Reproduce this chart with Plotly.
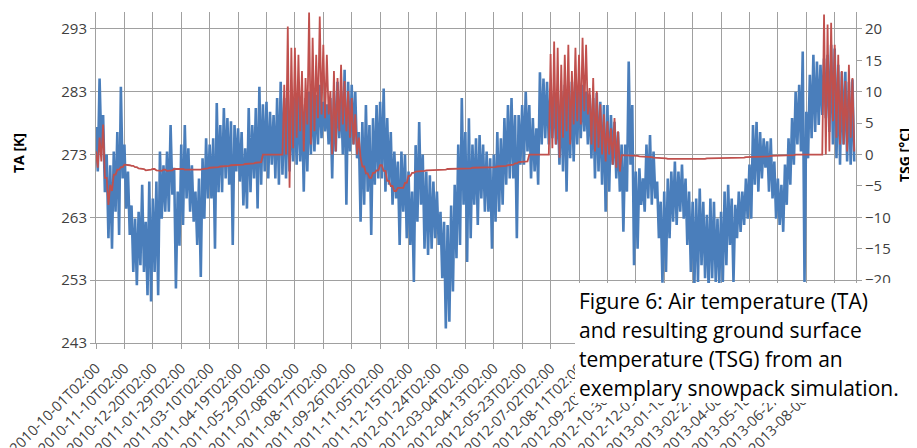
import numpy as np
import pandas as pd
import plotly.graph_objects as go

# ---------------- data (5-day steps from 2010-10-01T02:00) -------------
START = "2010-10-01 02:00"
STEP_DAYS = 5

# air temperature TA [K]: upper and lower envelope of each 5-day window
TA_hi = [
    277.4, 285.1, 279.3, 273.0, 271.3, 273.5, 276.6, 283.8,
    274.6, 270.3, 264.9, 262.8, 263.9, 268.2, 262.3, 268.7,
    266.0, 268.7, 273.5, 271.3, 273.5, 277.7, 270.9, 267.1,
    274.6, 277.7, 274.0, 271.3, 267.1, 269.2, 272.4, 275.6,
    274.6, 275.6, 281.2, 277.7, 280.4, 278.8, 278.3, 277.7,
    277.2, 276.6, 274.0, 280.4, 277.7, 280.4, 283.8, 281.0,
    281.4, 279.8, 279.3, 282.0, 284.6, 282.0, 282.5, 281.0,
    282.0, 283.0, 281.0, 282.0, 283.0, 283.5, 282.5, 284.1,
    281.4, 281.0, 282.0, 283.0, 284.6, 283.0, 286.5, 284.6,
    284.1, 283.0, 276.6, 278.2, 280.9, 277.7, 278.8, 280.9,
    281.4, 283.5, 278.8, 276.6, 273.5, 271.9, 273.5, 273.0,
    270.3, 267.1, 274.5, 278.2, 273.0, 270.3, 269.7, 268.7,
    267.1, 263.9, 262.3, 261.8, 264.9, 268.2, 274.6, 282.0,
    276.6, 278.8, 274.6, 275.6, 276.1, 274.6, 273.5, 272.4,
    273.0, 276.6, 275.6, 278.8, 280.9, 282.0, 279.3, 279.3,
    280.9, 283.0, 280.9, 278.8, 277.2, 286.1, 285.1, 284.6,
    283.5, 283.0, 282.0, 283.0, 284.1, 283.5, 284.6, 284.1,
    283.5, 284.1, 283.0, 282.5, 282.0, 282.8, 281.4, 280.9,
    280.9, 279.3, 278.2, 276.6, 274.6, 274.6, 287.8, 280.9,
    270.3, 270.8, 269.2, 274.6, 276.1, 273.5, 268.7, 265.5,
    267.1, 269.2, 270.3, 271.9, 270.3, 271.4, 269.2, 267.1,
    265.5, 266.0, 267.6, 265.5, 263.4, 266.0, 265.5, 262.8,
    263.9, 267.1, 268.2, 266.0, 265.0, 267.1, 267.1, 269.2,
    271.4, 277.7, 278.2, 276.6, 275.6, 275.1, 275.6, 271.9,
    269.2, 268.2, 271.4, 275.6, 278.8, 283.0, 284.1, 289.4,
    279.8, 285.7, 288.9, 287.8, 287.3, 288.3, 288.9, 290.5,
    289.9, 287.3, 286.2, 286.2, 284.6, 285.0,
]
TA_lo = [
    270.3, 274.0, 267.0, 259.7, 258.0, 263.9, 260.2, 269.2,
    264.4, 260.2, 254.3, 252.2, 255.4, 254.3, 250.6, 249.6,
    254.3, 250.6, 262.8, 263.9, 263.9, 266.6, 251.7, 258.5,
    261.8, 266.0, 263.9, 262.3, 258.6, 253.5, 262.8, 266.0,
    266.0, 258.0, 267.0, 267.0, 269.2, 268.2, 258.6, 270.3,
    268.7, 264.9, 264.4, 267.0, 269.2, 264.4, 268.2, 270.3,
    269.2, 271.4, 269.2, 268.2, 269.8, 269.2, 270.3, 271.9,
    271.4, 271.9, 267.1, 270.3, 273.0, 273.5, 274.6, 275.6,
    276.7, 274.6, 269.2, 273.5, 275.6, 273.0, 265.0, 273.5,
    274.6, 272.4, 262.3, 265.0, 267.1, 260.2, 268.2, 269.2,
    269.2, 267.1, 268.2, 265.0, 266.0, 258.6, 263.9, 259.7,
    258.6, 252.7, 262.3, 265.0, 258.0, 257.0, 258.0, 259.7,
    258.6, 253.3, 245.3, 246.4, 251.2, 256.5, 258.6, 265.0,
    255.9, 259.7, 265.0, 261.8, 266.0, 263.9, 263.9, 258.0,
    262.3, 263.9, 265.0, 268.2, 269.2, 269.2, 259.7, 271.4,
    271.4, 273.5, 269.2, 270.3, 268.2, 274.6, 275.6, 274.6,
    275.6, 274.6, 271.4, 270.3, 267.1, 272.4, 271.9, 274.6,
    275.6, 276.7, 274.6, 272.4, 269.2, 270.3, 268.2, 263.9,
    267.1, 271.4, 269.2, 267.1, 260.7, 267.1, 271.4, 255.4,
    258.0, 265.0, 263.9, 266.0, 265.0, 266.0, 259.7, 252.6,
    254.3, 259.7, 262.3, 261.8, 263.9, 262.8, 258.6, 254.3,
    252.2, 252.7, 255.4, 253.3, 251.6, 253.3, 252.7, 252.2,
    252.7, 255.4, 258.6, 252.7, 259.7, 260.7, 261.8, 262.8,
    262.8, 268.2, 267.1, 269.2, 270.9, 267.1, 266.0, 262.8,
    261.8, 260.7, 265.0, 268.2, 271.4, 274.6, 273.5, 252.7,
    272.4, 275.6, 276.6, 277.7, 279.3, 278.8, 276.6, 274.6,
    272.4, 271.4, 274.6, 271.9, 271.4, 271.9,
]

# ground surface temperature TSG [°C]: upper and lower envelope of each 5-day window
TSG_hi = [
    0.5, 2.7, 4.8, -3.7, -4.8, -3.2, -2.4, -2.0,
    -1.6, -1.7, -1.8, -2.0, -2.2, -2.3, -2.5, -2.4,
    -2.3, -2.5, -2.6, -2.4, -2.6, -2.5, -2.3, -2.2,
    -2.3, -2.4, -2.4, -2.5, -2.5, -2.4, -2.3, -2.2,
    -2.1, -2.0, -2.0, -1.9, -1.9, -1.8, -1.7, -1.7,
    -1.6, -1.6, -1.5, -1.5, -1.4, -1.3, -1.2, 0.0,
    0.0, 0.0, 0.0, 0.0, 0.0, 11.1, 20.4, 17.0,
    17.0, 15.9, 13.3, 12.2, 22.6, 18.6, 15.9, 22.0,
    17.5, 15.9, 10.1, 13.3, 12.2, 14.3, 11.7, 10.1,
    9.0, 6.4, 2.7, -1.9, -3.0, -3.7, -2.9, -2.5,
    -1.7, -2.6, -4.2, -5.0, -5.8, -5.3, -5.3, -4.5,
    -3.4, -2.9, -2.7, -2.6, -2.6, -2.5, -2.5, -2.4,
    -2.4, -2.4, -2.4, -2.3, -2.3, -2.3, -2.2, -2.2,
    -2.2, -2.2, -2.1, -2.1, -2.1, -2.0, -2.0, -2.0,
    -2.0, -1.9, -1.9, -1.8, -1.7, -1.6, -1.4, -1.2,
    -1.2, -1.1, 0.0, 0.0, 0.0, 0.0, 0.0, 0.0,
    16.0, 18.0, 17.0, 14.3, 15.9, 17.5, 13.3, 17.0,
    15.9, 18.6, 17.5, 10.6, 12.2, 10.1, 8.0, 6.4,
    5.3, 4.2, 5.8, 3.7, -0.1, -0.1, -0.2, -0.2,
    -0.2, -0.3, -0.3, -0.4, -0.4, -0.5, -0.5, -0.6,
    -0.6, -0.7, -0.7, -0.8, -0.8, -0.8, -0.8, -0.7,
    -0.7, -0.7, -0.7, -0.7, -0.6, -0.6, -0.6, -0.6,
    -0.6, -0.6, -0.6, -0.5, -0.5, -0.5, -0.5, -0.4,
    -0.4, -0.4, -0.4, -0.3, -0.3, -0.3, -0.2, -0.2,
    -0.2, -0.1, -0.1, -0.1, -0.1, 0.0, 0.0, 0.0,
    0.0, 0.0, 0.0, 0.0, 0.0, 22.3, 20.7, 21.0,
    17.5, 15.9, 13.3, 11.7, 14.3, 12.2,
]
TSG_lo = [
    -2.1, -1.1, -3.7, -8.0, -5.8, -3.2, -2.4, -2.0,
    -1.6, -1.7, -1.8, -2.0, -2.2, -2.3, -2.5, -2.4,
    -2.3, -2.5, -2.6, -2.4, -2.6, -2.5, -2.3, -2.2,
    -2.3, -2.4, -2.4, -2.5, -2.5, -2.4, -2.3, -2.2,
    -2.1, -2.0, -2.0, -1.9, -1.9, -1.8, -1.7, -1.7,
    -1.6, -1.6, -1.5, -1.5, -1.4, -1.3, -1.2, 0.0,
    0.0, 0.0, 0.0, 0.0, 0.0, 0.0, -5.3, 1.0,
    2.7, 3.7, 0.5, 4.8, 1.6, 3.7, 5.8, 6.4,
    5.8, 6.4, 0.0, 0.5, 3.7, 4.8, 3.7, 2.7,
    1.6, 0.0, -0.5, -1.9, -3.0, -3.7, -2.9, -2.5,
    -1.7, -2.6, -4.2, -5.0, -5.8, -5.3, -5.3, -4.5,
    -3.4, -2.9, -2.7, -2.6, -2.6, -2.5, -2.5, -2.4,
    -2.4, -2.4, -2.4, -2.3, -2.3, -2.3, -2.2, -2.2,
    -2.2, -2.2, -2.1, -2.1, -2.1, -2.0, -2.0, -2.0,
    -2.0, -1.9, -1.9, -1.8, -1.7, -1.6, -1.4, -1.2,
    -1.2, -1.1, 0.0, 0.0, 0.0, 0.0, 0.0, 0.0,
    1.0, 1.6, -0.5, 2.7, 3.7, 1.6, 4.8, 5.3,
    4.8, 6.9, 6.4, 1.6, 0.5, 1.1, 0.0, -1.1,
    0.0, -1.6, -2.1, -2.7, -0.1, -0.1, -0.2, -0.2,
    -0.2, -0.3, -0.3, -0.4, -0.4, -0.5, -0.5, -0.6,
    -0.6, -0.7, -0.7, -0.8, -0.8, -0.8, -0.8, -0.7,
    -0.7, -0.7, -0.7, -0.7, -0.6, -0.6, -0.6, -0.6,
    -0.6, -0.6, -0.6, -0.5, -0.5, -0.5, -0.5, -0.4,
    -0.4, -0.4, -0.4, -0.3, -0.3, -0.3, -0.2, -0.2,
    -0.2, -0.1, -0.1, -0.1, -0.1, 0.0, 0.0, 0.0,
    0.0, 0.0, 0.0, 0.0, 0.0, 0.0, 0.5, 5.3,
    2.7, 1.6, 1.6, 0.5, 2.7, 0.5,
]

TICK_EVERY_DAYS = 40
N_TICKS = 27
TA_TICKS = [243, 253, 263, 273, 283, 293]
TSG_TICKS = [-30, -25, -20, -15, -10, -5, 0, 5, 10, 15, 20]

CAPTION = [
    "Figure 6: Air temperature (TA)",
    "and resulting ground surface",
    "temperature (TSG) from an",
    "exemplary snowpack simulation.",
]

# ---------------- build series -------------
start = pd.Timestamp(START)
n = len(TA_hi)
t_hi = start + pd.to_timedelta(np.arange(n) * STEP_DAYS, unit="D")
t_lo = t_hi + pd.Timedelta(hours=STEP_DAYS * 12)

def interleave(a, b):
    out = []
    for p, q in zip(a, b):
        out.extend([p, q])
    return out

x_all = interleave(list(t_hi), list(t_lo))
ta_all = interleave(TA_hi, TA_lo)
tsg_all = interleave(TSG_hi, TSG_lo)

tickvals = pd.date_range(start, periods=N_TICKS, freq=f"{TICK_EVERY_DAYS}D")
ticktext = [t.strftime("%Y-%m-%dT%H:%M") for t in tickvals]

BLUE = "#4a7ebb"
RED = "#c0504d"
GRID = "#a0a0a0"
TXT = "#404040"
FONT = "Open Sans"

fig = go.Figure()
fig.add_trace(go.Scatter(x=x_all, y=ta_all, mode="lines",
                         line=dict(color=BLUE, width=2.6), name="TA", yaxis="y"))
fig.add_trace(go.Scatter(x=x_all, y=tsg_all, mode="lines",
                         line=dict(color=RED, width=1.8), name="TSG", yaxis="y2"))

# page offset (browser body margin) and plot area in page pixels
OFF = 8
W, H = 917 - OFF, 448 - OFF
L, R, T, B = 96 - OFF, 856 - OFF, 12 - OFF, 343 - OFF
x_start = start - pd.Timedelta(minutes=30)
x_end = start + pd.Timedelta(days=1070)

fig.update_layout(
    width=W, height=H,
    margin=dict(l=L, r=W - R, t=T, b=H - B, pad=0, autoexpand=False),
    paper_bgcolor="white", plot_bgcolor="white",
    showlegend=False,
    font=dict(family=FONT, color=TXT, size=15),
    xaxis=dict(
        type="date", range=[x_start, x_end], automargin=False,
        tickmode="array", tickvals=tickvals, ticktext=ticktext,
        tickangle=-45, tickfont=dict(size=14.5, color=TXT),
        ticklabelstandoff=5, ticklabeloverflow="allow",
        showgrid=True, gridcolor=GRID, gridwidth=1,
        ticks="outside", ticklen=5, tickcolor=GRID,
        showline=True, linecolor=GRID, zeroline=False,
    ),
    yaxis=dict(
        range=[243, 295.7], tickmode="array", tickvals=TA_TICKS, automargin=False,
        showgrid=True, gridcolor=GRID, gridwidth=1,
        ticks="outside", ticklen=5, tickcolor=GRID,
        showline=True, linecolor=GRID, zeroline=False,
        tickfont=dict(size=15, color=TXT),
    ),
    yaxis2=dict(
        range=[-30, 22.7], overlaying="y", side="right", automargin=False,
        tickmode="array", tickvals=TSG_TICKS,
        showgrid=False, ticks="outside", ticklen=5, tickcolor=GRID,
        showline=True, linecolor=GRID, zeroline=False,
        tickfont=dict(size=15, color=TXT),
    ),
)

def px_x(px):  # page pixel -> paper fraction
    return (px - OFF - L) / (R - L)

def px_y(py):
    return (B - (py - OFF)) / (B - T)

# axis titles
fig.add_annotation(text="<b>TA [K]</b>", xref="paper", yref="paper",
                   x=px_x(18), y=px_y(153), textangle=-90, showarrow=False,
                   font=dict(size=14, color="#000000", family=FONT),
                   xanchor="center", yanchor="middle")
fig.add_annotation(text="<b>TSG [°C]</b>", xref="paper", yref="paper",
                   x=px_x(905), y=px_y(155), textangle=-90, showarrow=False,
                   font=dict(size=14, color="#000000", family=FONT),
                   xanchor="center", yanchor="middle")

# caption box covering part of the chart
fig.add_shape(type="rect", xref="paper", yref="paper",
              x0=px_x(575), x1=px_x(930), y0=px_y(283), y1=px_y(403),
              fillcolor="white", line=dict(width=0), layer="above")
for i, line in enumerate(CAPTION):
    fig.add_annotation(text=line, xref="paper", yref="paper",
                       x=px_x(577), y=px_y(301 + 29 * i), showarrow=False,
                       xanchor="left", yanchor="middle",
                       font=dict(size=21, color="#000000", family=FONT))

fig.write_html("out.html")
